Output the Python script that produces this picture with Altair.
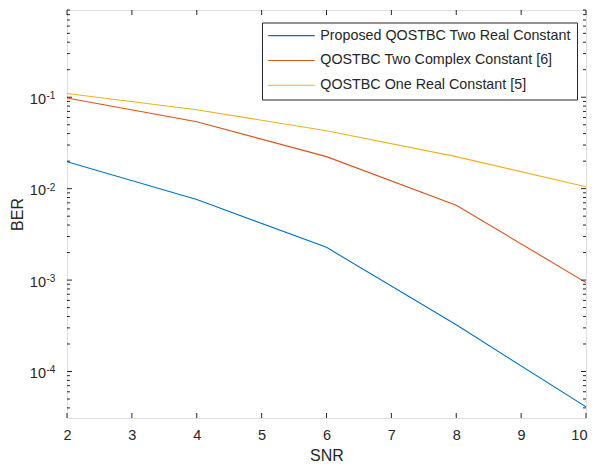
import altair as alt
import pandas as pd

# ---- data ----
snr = [2, 4, 6, 8, 10]
ber_proposed = [0.0197, 0.0076, 0.00228, 0.000324, 0.000041]
ber_complex = [0.098, 0.054, 0.0224, 0.0066, 0.00094]
ber_one_real = [0.11, 0.073, 0.043, 0.0224, 0.0105]

series_names = [
    "Proposed QOSTBC Two Real Constant",
    "QOSTBC Two Complex Constant [6]",
    "QOSTBC One Real Constant [5]",
]
series_colors = ["#0072BD", "#D95319", "#EDB120"]

x_ticks = [2, 3, 4, 5, 6, 7, 8, 9, 10]
y_major_exps = [-1, -2, -3, -4]
y_minor_mults = [2, 3, 4, 5, 6, 7, 8, 9]
y_minor_decades = [-5, -4, -3, -2, -1]
x_domain = [2, 10]
y_domain = [3.1e-5, 0.9]

# ---- layout ----
W, H = 519, 408
FONT = "Liberation Sans"
INK = "#262626"

rows = []
for name, vals in zip(series_names, [ber_proposed, ber_complex, ber_one_real]):
    for s, b in zip(snr, vals):
        rows.append({"snr": s, "ber": b, "series": name})
df = pd.DataFrame(rows)

maj = pd.DataFrame({"v": [10.0 ** e for e in y_major_exps],
                    "exp": [str(e) for e in y_major_exps]})
minor_vals = [m * 10.0 ** d for d in y_minor_decades for m in y_minor_mults]
minor_vals = [v for v in minor_vals if y_domain[0] <= v <= y_domain[1]]
mnr = pd.DataFrame({"v": minor_vals})
xt = pd.DataFrame({"v": x_ticks})

xs = alt.Scale(domain=x_domain, nice=False, zero=False)
ys = alt.Scale(type="log", domain=y_domain, nice=False)

xaxis = alt.Axis(values=x_ticks, format="d", ticks=False, tickSize=0,
                 domain=False, grid=False, labelFont=FONT,
                 labelFontSize=14.5, labelColor=INK, labelPadding=10,
                 labelAlign={"condition": {"test": "datum.value == 10", "value": "right"},
                             "value": "center"},
                 labelOffset={"condition": {"test": "datum.value == 10", "value": 1},
                              "value": 0},
                 titleFont=FONT, titleFontSize=16, titleFontWeight="normal",
                 titleColor=INK, titlePadding=6)
yaxis = alt.Axis(labels=False, ticks=False, tickSize=0, domain=False,
                 grid=False, titleFont=FONT, titleFontSize=16,
                 titleFontWeight="normal", titleColor=INK, titlePadding=42)

lines = alt.Chart(df).mark_line(strokeWidth=1.1, clip=True).encode(
    x=alt.X("snr:Q", scale=xs, title="SNR", axis=xaxis),
    y=alt.Y("ber:Q", scale=ys, title="BER", axis=yaxis),
    color=alt.Color("series:N",
                    scale=alt.Scale(domain=series_names, range=series_colors),
                    legend=alt.Legend(title=None, orient="none", legendX=195, legendY=12.5,
                                      padding=6, strokeColor=INK, fillColor="white",
                                      labelFont=FONT, labelFontSize=14.3, labelColor=INK,
                                      labelLimit=0, symbolType="M-1.7,0H9.7",
                                      symbolSize=66.7, symbolStrokeWidth=1.1,
                                      labelOffset=38, rowPadding=9.8)),
)

def yrule(data, x0, x1):
    return alt.Chart(data).mark_rule(color=INK, strokeWidth=1).encode(
        y=alt.Y("v:Q", scale=ys, axis=yaxis, title="BER"),
        x=alt.value(x0), x2=alt.value(x1))

def xrule(y0, y1):
    return alt.Chart(xt).mark_rule(color=INK, strokeWidth=1).encode(
        x=alt.X("v:Q", scale=xs, axis=xaxis, title="SNR"),
        y=alt.value(y0), y2=alt.value(y1))

ticks = [
    yrule(maj, 0, 5), yrule(maj, W - 5, W),
    yrule(mnr, 0, 3), yrule(mnr, W - 3, W),
    xrule(H, H - 5), xrule(0, 5),
]

lab10 = alt.Chart(maj).mark_text(align="right", baseline="middle", font=FONT,
                                 fontSize=14.5, color=INK, dy=2.5).encode(
    y=alt.Y("v:Q", scale=ys, axis=yaxis, title="BER"),
    x=alt.value(-21), text=alt.value("10"))
labexp = alt.Chart(maj).mark_text(align="left", baseline="middle", font=FONT,
                                  fontSize=10, color=INK, dy=-1).encode(
    y=alt.Y("v:Q", scale=ys, axis=yaxis, title="BER"),
    x=alt.value(-20.5), text="exp:N")

chart = alt.layer(lines, *ticks, lab10, labexp).properties(
    width=W, height=H,
    autosize=alt.AutoSizeParams(type="none"),
    padding={"left": 59, "top": 2, "right": 2, "bottom": 48},
).configure_view(stroke=INK, strokeWidth=1).configure(background="white")

chart.save("out.html", embed_options={"renderer": "svg", "actions": False})
